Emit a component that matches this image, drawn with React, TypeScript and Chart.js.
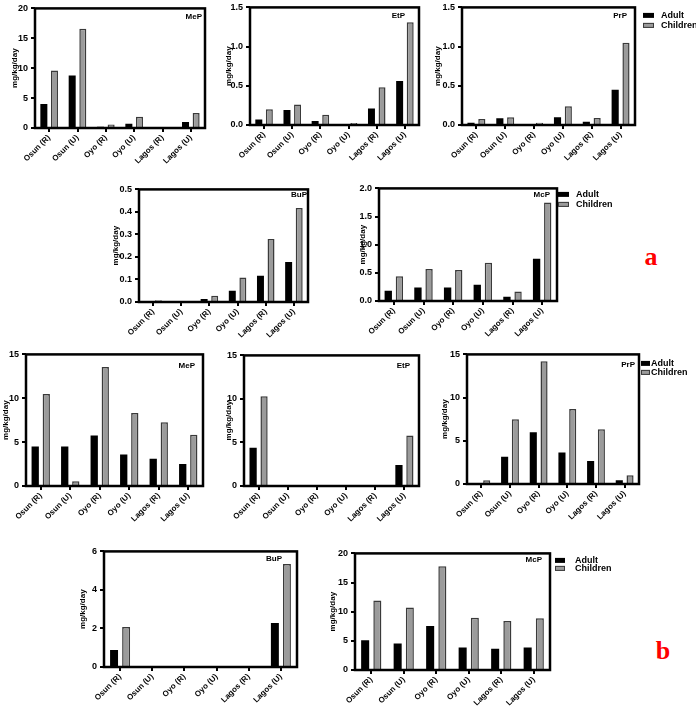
import React, { useEffect, useRef } from 'react';
import { Chart, registerables } from 'chart.js';

Chart.register(...registerables);

// Sampling sites (R = rural, U = urban)
const sites = ['Osun (R)', 'Osun (U)', 'Oyo (R)', 'Oyo (U)', 'Lagos (R)', 'Lagos (U)'];
const groupNames = ['Adult', 'Children'];
const unitLabel = 'mg/kg/day';

// Set a — estimated daily intake
const aMePAdult = [4.0, 8.8, 0.2, 0.7, 0, 1.0];
const aMePChildren = [9.6, 16.6, 0.6, 1.9, 0, 2.5];
const aEtPAdult = [0.07, 0.19, 0.05, 0, 0.21, 0.56];
const aEtPChildren = [0.2, 0.26, 0.13, 0.025, 0.48, 1.31];
const aPrPAdult = [0.03, 0.085, 0, 0.1, 0.04, 0.45];
const aPrPChildren = [0.076, 0.1, 0.03, 0.24, 0.09, 1.05];
const aBuPAdult = [0, 0, 0.013, 0.05, 0.117, 0.178];
const aBuPChildren = [0.008, 0, 0.028, 0.109, 0.28, 0.417];
const aMcPAdult = [0.18, 0.24, 0.24, 0.29, 0.077, 0.75];
const aMcPChildren = [0.44, 0.57, 0.55, 0.68, 0.17, 1.75];

// Set b
const bMePAdult = [4.5, 4.5, 5.76, 3.6, 3.1, 2.5];
const bMePChildren = [10.5, 0.53, 13.56, 8.33, 7.27, 5.83];
const bEtPAdult = [4.4, 0, 0, 0, 0, 2.4];
const bEtPChildren = [10.3, 0, 0, 0, 0, 5.8];
const bPrPAdult = [0.1, 3.15, 6.0, 3.64, 2.65, 0.42];
const bPrPChildren = [0.42, 7.5, 14.2, 8.67, 6.33, 1.0];
const bBuPAdult = [0.88, 0, 0, 0, 0, 2.28];
const bBuPChildren = [2.07, 0, 0, 0, 0, 5.35];
const bMcPAdult = [5.1, 4.55, 7.56, 3.86, 3.64, 3.86];
const bMcPChildren = [11.9, 10.7, 17.8, 8.98, 8.4, 8.86];

const FONT = "Arial, 'Liberation Sans', sans-serif";
const ADULT_FILL = '#000000';
const CHILD_FILL = '#9b9b9b';
const CHILD_EDGE = '#3a3a3a';

type LegendLayout = { dx: number; w: number; h: number; textDx: number; dy: number; gap: number };

type PanelCfg = {
  name: string;
  adult: number[];
  children: number[];
  max: number;
  step: number;
  decimals: number;
  box: [number, number, number, number]; // plot frame: left, top, right, bottom
  yTitleX: number;
  nameInset: number;
  nameDy: number;
  legend?: LegendLayout;
};

const panels: PanelCfg[] = [
  { name: 'MeP', adult: aMePAdult, children: aMePChildren, max: 20, step: 5, decimals: 0,
    box: [35, 8, 205, 128], yTitleX: 15, nameInset: 3, nameDy: 8 },
  { name: 'EtP', adult: aEtPAdult, children: aEtPChildren, max: 1.5, step: 0.5, decimals: 1,
    box: [250, 7, 419, 125], yTitleX: 229, nameInset: 14, nameDy: 8 },
  { name: 'PrP', adult: aPrPAdult, children: aPrPChildren, max: 1.5, step: 0.5, decimals: 1,
    box: [462, 7, 635, 125], yTitleX: 438, nameInset: 8, nameDy: 8,
    legend: { dx: 8, w: 11, h: 5, textDx: 18, dy: 8, gap: 10 } },
  { name: 'BuP', adult: aBuPAdult, children: aBuPChildren, max: 0.5, step: 0.1, decimals: 1,
    box: [139, 189, 308, 302], yTitleX: 116, nameInset: 1, nameDy: 5 },
  { name: 'McP', adult: aMcPAdult, children: aMcPChildren, max: 2.0, step: 0.5, decimals: 1,
    box: [379, 188, 557, 301], yTitleX: 363, nameInset: 7, nameDy: 6,
    legend: { dx: 1, w: 11, h: 5, textDx: 18, dy: 6, gap: 10 } },
  { name: 'MeP', adult: bMePAdult, children: bMePChildren, max: 15, step: 5, decimals: 0,
    box: [26, 354, 203, 486], yTitleX: 6, nameInset: 8, nameDy: 11 },
  { name: 'EtP', adult: bEtPAdult, children: bEtPChildren, max: 15, step: 5, decimals: 0,
    box: [244, 355, 419, 486], yTitleX: 229, nameInset: 9, nameDy: 10 },
  { name: 'PrP', adult: bPrPAdult, children: bPrPChildren, max: 15, step: 5, decimals: 0,
    box: [467, 354, 639, 484], yTitleX: 445, nameInset: 4, nameDy: 10,
    legend: { dx: 2, w: 9, h: 5, textDx: 10, dy: 9, gap: 9 } },
  { name: 'BuP', adult: bBuPAdult, children: bBuPChildren, max: 6, step: 2, decimals: 0,
    box: [104, 551, 297, 667], yTitleX: 83, nameInset: 15, nameDy: 7 },
  { name: 'McP', adult: bMcPAdult, children: bMcPChildren, max: 20, step: 5, decimals: 0,
    box: [355, 553, 550, 670], yTitleX: 333, nameInset: 8, nameDy: 6,
    legend: { dx: 5, w: 10, h: 5, textDx: 20, dy: 7, gap: 8 } },
];

const PAD_TOP = 8;
const X_AXIS_H = 46;

function BarPanel({ cfg }: { cfg: PanelCfg }) {
  const ref = useRef<HTMLCanvasElement>(null);
  const [l, t, r, b] = cfg.box;
  const yW = l - cfg.yTitleX + 5;
  const padRight = cfg.legend ? 80 : 8;
  const left = l - yW;
  const top = t - PAD_TOP;
  const width = r - left + padRight;
  const height = b - top + X_AXIS_H;

  useEffect(() => {
    const canvas = ref.current;
    if (!canvas) return;

    const decor = {
      id: 'panelDecor',
      afterDatasetsDraw(chart: any) {
        const { ctx, chartArea } = chart;
        ctx.save();
        // closed frame around the plotting area
        ctx.strokeStyle = '#000';
        ctx.lineWidth = 2.5;
        ctx.strokeRect(chartArea.left, chartArea.top, chartArea.right - chartArea.left, chartArea.bottom - chartArea.top);
        // compound name in the upper right corner
        ctx.fillStyle = '#000';
        ctx.font = `bold 8px ${FONT}`;
        ctx.textAlign = 'right';
        ctx.textBaseline = 'middle';
        ctx.fillText(cfg.name, chartArea.right - cfg.nameInset, chartArea.top + cfg.nameDy);
        // legend to the right of the frame
        const lg = cfg.legend;
        if (lg) {
          chart.data.datasets.forEach((ds: any, i: number) => {
            const x = chartArea.right + lg.dx;
            const y = chartArea.top + lg.dy + i * lg.gap;
            ctx.fillStyle = ds.backgroundColor;
            ctx.fillRect(x, y - lg.h / 2, lg.w, lg.h);
            if (ds.borderWidth) {
              ctx.strokeStyle = ds.borderColor;
              ctx.lineWidth = 1;
              ctx.strokeRect(x + 0.5, y - lg.h / 2 + 0.5, lg.w - 1, lg.h - 1);
            }
            ctx.fillStyle = '#000';
            ctx.font = `bold 9px ${FONT}`;
            ctx.textAlign = 'left';
            ctx.fillText(ds.label, x + lg.textDx, y);
          });
        }
        ctx.restore();
      },
    };

    const chart = new Chart(canvas, {
      type: 'bar',
      data: {
        labels: sites,
        datasets: [
          { label: groupNames[0], data: cfg.adult, backgroundColor: ADULT_FILL, borderWidth: 0 },
          { label: groupNames[1], data: cfg.children, backgroundColor: CHILD_FILL, borderColor: CHILD_EDGE, borderWidth: 1.5 },
        ],
      },
      options: {
        responsive: false,
        animation: false,
        devicePixelRatio: 1,
        categoryPercentage: 0.75,
        barPercentage: 0.66,
        layout: { padding: { top: PAD_TOP, right: padRight, left: 0, bottom: 0 } },
        plugins: { legend: { display: false }, tooltip: { enabled: false } },
        scales: {
          x: {
            offset: true,
            border: { display: false },
            grid: { offset: false, drawOnChartArea: false, drawTicks: true, tickLength: 4, lineWidth: 2, color: '#000' },
            ticks: {
              autoSkip: false,
              minRotation: 45,
              maxRotation: 45,
              padding: 1,
              color: '#000',
              font: { family: FONT, size: 8, weight: 'bold' },
            },
            afterFit: (s: any) => { s.height = X_AXIS_H; },
          },
          y: {
            min: 0,
            max: cfg.max,
            border: { display: false },
            grid: { drawOnChartArea: false, drawTicks: true, tickLength: 4, lineWidth: 2, color: '#000' },
            ticks: {
              stepSize: cfg.step,
              padding: 3,
              color: '#000',
              font: { family: FONT, size: 9, weight: 'bold' },
              callback: (v: any) => Number(v).toFixed(cfg.decimals),
            },
            title: {
              display: true,
              text: unitLabel,
              color: '#000',
              padding: 0,
              font: { family: FONT, size: 8, weight: 'bold' },
            },
            afterFit: (s: any) => { s.width = yW; },
          },
        },
      } as any,
      plugins: [decor],
    });
    return () => chart.destroy();
  }, []);

  return (
    <canvas
      ref={ref}
      width={width}
      height={height}
      style={{ position: 'absolute', left, top, width, height }}
    />
  );
}

const setMark: React.CSSProperties = {
  position: 'absolute',
  color: '#ff0000',
  fontFamily: "'Liberation Serif', 'DejaVu Serif', serif",
  fontWeight: 'bold',
  fontSize: 26,
  lineHeight: '26px',
  transform: 'translate(-50%, -50%)',
};

export default function App() {
  return (
    <div style={{ position: 'absolute', left: 0, top: 0, width: 696, height: 712, background: '#fff', overflow: 'hidden' }}>
      {panels.map((p, i) => (
        <BarPanel key={i} cfg={p} />
      ))}
      <div style={{ ...setMark, left: 651, top: 257 }}>a</div>
      <div style={{ ...setMark, left: 663, top: 651 }}>b</div>
    </div>
  );
}
